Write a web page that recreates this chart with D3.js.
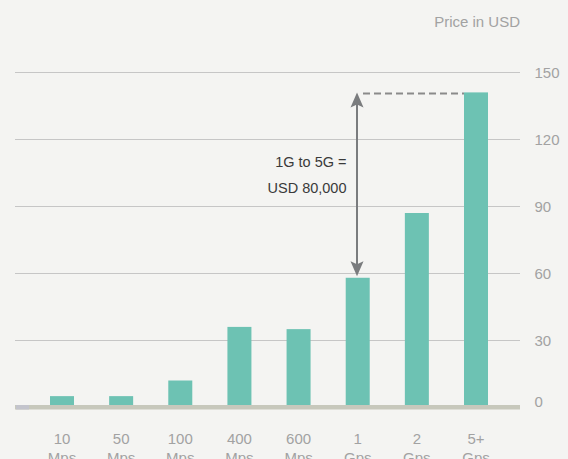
<!DOCTYPE html>
<html>
<head>
<meta charset="utf-8">
<script src="https://cdn.jsdelivr.net/npm/d3@7"></script>
<style>
  body { margin: 0; background: #f4f4f2; }
  svg { display: block; font-family: "Helvetica Neue", "Liberation Sans", Arial, sans-serif; }
</style>
</head>
<body>
<svg width="568" height="459"></svg>
<script>
var tiers = ['10', '50', '100', '400', '600', '1', '2', '5+'],
	units = ['Mps', 'Mps', 'Mps', 'Mps', 'Mps', 'Gps', 'Gps', 'Gps'],
	prices = [5, 5, 12, 36, 35, 58, 87, 141],
	ticks = [0, 30, 60, 90, 120, 150],
	note = ['1G to 5G =', 'USD 80,000']

var svg = d3.select('svg'),
	left = 15, right = 520,
	step = 59.14,
	labelGrey = '#a2a2a2'

var x = d3.scaleBand()
	.domain(tiers)
	.range([62 - step / 2, 476 + step / 2])
	.paddingInner(1 - 24 / step)
	.paddingOuter((1 - 24 / step) / 2)

var y = d3.scaleLinear().domain([0, 150]).range([407.3, 72.3])

// gridlines
svg.append('g').selectAll('line')
	.data(ticks.filter(function(d) { return d > 0 }))
	.enter().append('line')
	.attr('x1', left).attr('x2', right)
	.attr('y1', function(d) { return Math.round(y(d)) + 0.5 })
	.attr('y2', function(d) { return Math.round(y(d)) + 0.5 })
	.attr('stroke', '#c6c6c6')
	.attr('stroke-width', 1)

// y labels
svg.append('g').selectAll('text')
	.data(ticks)
	.enter().append('text')
	.attr('x', 534.5)
	.attr('y', function(d) { return y(d) + (d === 0 ? 0 : 5.5) })
	.attr('fill', labelGrey)
	.attr('font-size', 15)
	.text(function(d) { return d })

svg.append('text')
	.attr('x', right).attr('y', 26.5)
	.attr('text-anchor', 'end')
	.attr('fill', labelGrey)
	.attr('font-size', 15)
	.text('Price in USD')

// bars
svg.append('g').selectAll('rect')
	.data(prices)
	.enter().append('rect')
	.attr('x', function(d, i) { return x(tiers[i]) })
	.attr('width', x.bandwidth())
	.attr('y', function(d) { return y(d) })
	.attr('height', function(d) { return y(0) - y(d) })
	.attr('fill', '#6dc2b3')

// baseline
svg.append('rect')
	.attr('x', left).attr('width', right - left)
	.attr('y', 405).attr('height', 4.5)
	.attr('fill', '#c7c8bc')
svg.append('rect')
	.attr('x', left + 1).attr('width', 13)
	.attr('y', 405).attr('height', 4.5)
	.attr('fill', '#c3c4cc')

// x labels
var xl = svg.append('g').selectAll('text')
	.data(tiers)
	.enter().append('text')
	.attr('text-anchor', 'middle')
	.attr('fill', labelGrey)
	.attr('font-size', 15)
	.attr('transform', function(d) { return 'translate(' + (x(d) + x.bandwidth() / 2) + ',443.5)' })
xl.append('tspan').attr('x', 0).attr('y', 0).text(function(d) { return d })
xl.append('tspan').attr('x', 0).attr('y', 19).text(function(d, i) { return units[i] })

// annotation
var ax = x('1') + x.bandwidth() / 2 - 0.7,
	ytop = y(prices[7]),
	ybot = y(prices[5]) - 1.5,
	grey = '#7a7c7e'

svg.append('line')
	.attr('x1', ax + 6).attr('x2', x('5+'))
	.attr('y1', ytop + 1).attr('y2', ytop + 1)
	.attr('stroke', '#8a8a8a')
	.attr('stroke-width', 2)
	.attr('stroke-dasharray', '7,4')

svg.append('line')
	.attr('x1', ax).attr('x2', ax)
	.attr('y1', ytop + 8).attr('y2', ybot - 8)
	.attr('stroke', grey)
	.attr('stroke-width', 2)

svg.append('path')
	.attr('d', 'M' + ax + ',' + ytop + 'l-6.5,15l6.5,-3l6.5,3z')
	.attr('fill', grey)
svg.append('path')
	.attr('d', 'M' + ax + ',' + ybot + 'l-6.5,-15l6.5,3l6.5,-3z')
	.attr('fill', grey)

svg.append('g').selectAll('text')
	.data(note)
	.enter().append('text')
	.attr('x', 346.5)
	.attr('y', function(d, i) { return 167 + i * 26 })
	.attr('text-anchor', 'end')
	.attr('fill', '#3a3a3a')
	.attr('font-size', 14.5)
	.text(function(d) { return d })
</script>
</body>
</html>
